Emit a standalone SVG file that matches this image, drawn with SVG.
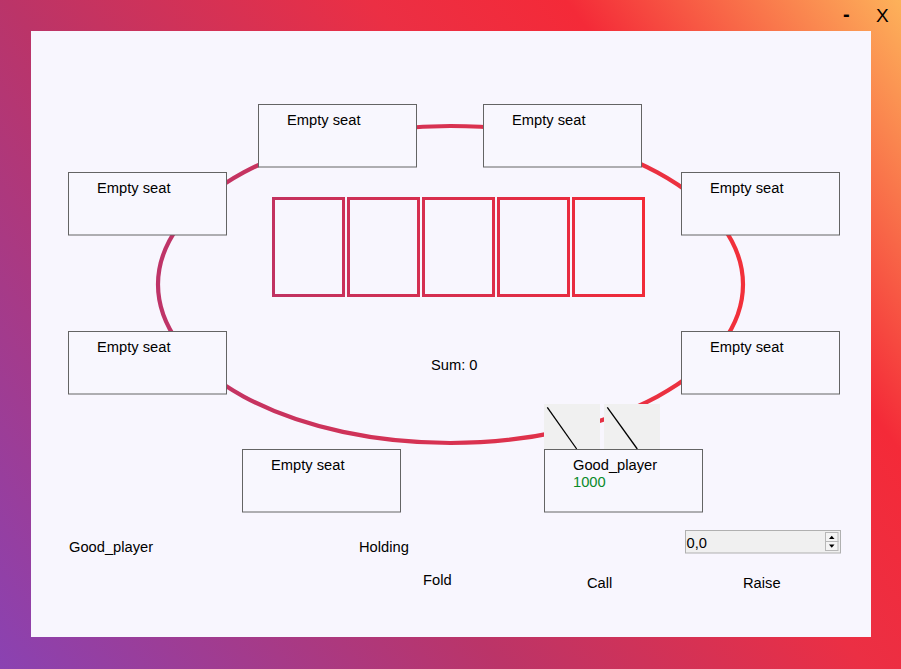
<svg xmlns="http://www.w3.org/2000/svg" width="901" height="669" viewBox="0 0 901 669">
<defs>
<linearGradient id="bg" gradientUnits="userSpaceOnUse" x1="0" y1="669" x2="901" y2="0">
<stop offset="0" stop-color="#8a42b2"/>
<stop offset="0.36" stop-color="#bb3468"/>
<stop offset="0.62" stop-color="#eb2f44"/>
<stop offset="0.76" stop-color="#f42a38"/>
<stop offset="1" stop-color="#fdb25a"/>
</linearGradient>
<linearGradient id="ring" gradientUnits="userSpaceOnUse" x1="157" y1="0" x2="744" y2="0">
<stop offset="0" stop-color="#be3468"/>
<stop offset="1" stop-color="#f2303a"/>
</linearGradient>
<linearGradient id="cards" gradientUnits="userSpaceOnUse" x1="272" y1="297" x2="645" y2="197">
<stop offset="0" stop-color="#c03262"/>
<stop offset="1" stop-color="#f42a36"/>
</linearGradient>
</defs>
<style>
text{font-family:"Liberation Sans",Arial,sans-serif;font-size:14.7px;fill:#000}
.seat rect{fill:#f8f7fe;stroke:#646464;stroke-width:1}
.card{fill:none;stroke:url(#cards);stroke-width:3}
.back{fill:#f0f0f0}
.slash{stroke:#000;stroke-width:1.3}
</style>
<rect x="0" y="0" width="901" height="669" fill="url(#bg)"/>
<rect x="31" y="31" width="840" height="606" fill="#f8f6fe"/>
<text x="843" y="21" style="font-size:20px;font-weight:bold">-</text>
<text x="876" y="22" style="font-size:19px">X</text>
<ellipse cx="450.5" cy="284.5" rx="292.5" ry="158.5" fill="none" stroke="url(#ring)" stroke-width="4.2"/>
<g id="board">
<rect class="card" x="273.5" y="198.5" width="70" height="97"/>
<rect class="card" x="348.5" y="198.5" width="70" height="97"/>
<rect class="card" x="423.5" y="198.5" width="70" height="97"/>
<rect class="card" x="498.5" y="198.5" width="70" height="97"/>
<rect class="card" x="573.5" y="198.5" width="70" height="97"/>
</g>
<g id="seat1" class="seat"><rect x="258.5" y="104.5" width="158" height="62.5"/><text x="287" y="125">Empty seat</text></g>
<g id="seat2" class="seat"><rect x="483.5" y="104.5" width="158" height="62.5"/><text x="512" y="125">Empty seat</text></g>
<g id="seat3" class="seat"><rect x="68.5" y="172.5" width="158" height="62.5"/><text x="97" y="193">Empty seat</text></g>
<g id="seat4" class="seat"><rect x="681.5" y="172.5" width="158" height="62.5"/><text x="710" y="193">Empty seat</text></g>
<g id="seat5" class="seat"><rect x="68.5" y="331.5" width="158" height="62.5"/><text x="97" y="352">Empty seat</text></g>
<g id="seat6" class="seat"><rect x="681.5" y="331.5" width="158" height="62.5"/><text x="710" y="352">Empty seat</text></g>
<g id="seat7" class="seat"><rect x="242.5" y="449.5" width="158" height="62.5"/><text x="271" y="470">Empty seat</text></g>
<g id="hand">
<rect class="back" x="544" y="404" width="56" height="50"/>
<rect class="back" x="604" y="404" width="56" height="50"/>
<line class="slash" x1="547.3" y1="407.3" x2="576.7" y2="449"/>
<line class="slash" x1="607.3" y1="407.3" x2="637.3" y2="449"/>
</g>
<g id="seat8" class="seat"><rect x="544.5" y="449.5" width="158" height="62.5"/><text x="573" y="470">Good_player</text><text x="573" y="487" style="fill:#0a8a2a">1000</text></g>
<text x="431" y="370">Sum: 0</text>
<text x="69" y="552">Good_player</text>
<text x="359" y="552">Holding</text>
<text x="423" y="584.5">Fold</text>
<text x="587" y="588">Call</text>
<text x="743" y="588">Raise</text>
<g id="spin">
<rect x="685.5" y="530.5" width="155" height="22.5" fill="#f0f0f0" stroke="#b0b0b0"/>
<text x="686.5" y="547.5">0,0</text>
<rect x="825.5" y="532.5" width="12.5" height="9" fill="#f4f4f4" stroke="#b8b8b8"/>
<rect x="825.5" y="541.5" width="12.5" height="9" fill="#f4f4f4" stroke="#b8b8b8"/>
<path d="M829 539 L834.5 539 L831.75 535.8 Z" fill="#000"/>
<path d="M829 544.5 L834.5 544.5 L831.75 547.7 Z" fill="#000"/>
</g>
</svg>
